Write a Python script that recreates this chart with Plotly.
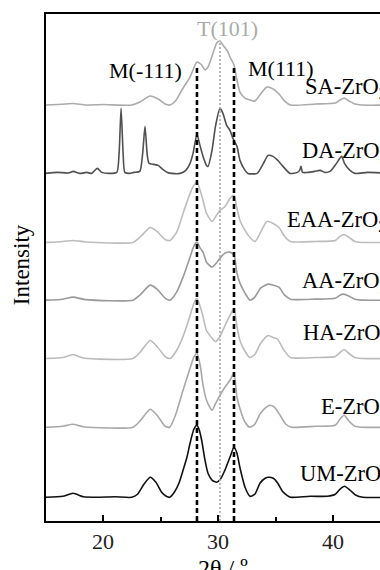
import plotly.graph_objects as go

# ---------------- data (2θ in degrees, relative intensity per pattern) ----------------
UM_tt = [15.0,16.5,17.4,18.3,19.5,21.0,22.5,23.0,23.5,24.1,24.6,25.1,25.5,25.8,26.2,26.6,26.96,27.3,27.57,27.9,28.17,28.35,28.58,28.87,29.13,29.5,29.89,30.2,30.6,31.04,31.39,31.65,31.9,32.35,32.78,33.2,33.65,34.1,34.4,34.8,35.2,35.6,36.0,36.3,38.0,39.5,40.2,40.6,41.0,41.5,42.0,42.6,45.0]
UM_I  = [0,1,4,0.5,0,0.5,0,3,12,20,15,5,1,0,5,14,27,40,54,68,72,68,57,37,24,17,15,18,27,40,50,44,30,10,1,3,14,19,20,19,14,6,2,0,1,1,3,8,11,7,2,0,0]

E_tt = [15.0,16.5,17.4,18.3,22.6,23.2,24.1,24.7,25.4,25.8,26.3,26.96,27.57,27.9,28.17,28.45,28.7,29.0,29.48,29.8,30.17,30.6,31.04,31.39,31.65,31.9,32.35,32.78,33.2,33.7,34.2,34.5,34.9,35.4,35.9,36.4,38.5,40.2,40.6,40.96,41.4,41.9,42.5,45.0]
E_I  = [0,1,3,0.5,0,6,18,12,1,0,12,37,59,70,74,62,42,27,17,24,32,40,47,54,30,19,5,0,3,14,20,22,20,12,3,0,1,2,8,12,6,1,0,0]

HA_tt = [15.0,16.5,17.4,18.3,22.6,23.2,24.1,24.7,25.4,25.83,26.4,26.96,27.57,27.9,28.17,28.45,28.7,29.0,29.8,30.17,30.61,31.04,31.39,31.65,31.91,32.35,32.78,33.2,33.7,34.35,34.8,35.2,35.7,36.3,38.5,40.2,40.6,40.96,41.4,41.9,42.5,45.0]
HA_I  = [0,1,4,0.5,0,6,18,12,2,0,8,22,43,55,60,52,42,28,17,22,33,43,50,32,18,7,1,4,15,23,21,19,9,1,1,2,6,9,5,1,0,0]

AA_tt = [15.0,16.5,17.4,18.5,22.6,23.2,24.1,24.7,25.4,25.83,26.4,26.96,27.57,27.9,28.17,28.45,28.7,29.0,29.48,29.85,30.17,30.61,31.04,31.39,31.65,31.91,32.35,32.78,33.2,33.7,34.35,34.8,35.3,35.8,36.3,38.5,40.2,40.6,40.9,41.4,41.9,42.5,45.0]
AA_I  = [0,1,3,0.5,0,5,15,11,2,0,8,23,43,54,58,52,48,38,33,37,42,47,48,45,27,17,7,0,3,12,16,15,13,5,1,1,2,5,6,4,1,0,0]

EAA_tt = [15.0,16.5,17.4,18.5,22.6,23.2,24.1,24.7,25.4,25.83,26.4,26.96,27.57,27.9,28.17,28.45,28.7,29.0,29.48,29.8,30.17,30.61,31.04,31.39,31.65,31.91,32.35,32.78,33.22,33.7,34.25,34.8,35.3,35.8,36.3,38.5,40.2,40.6,40.96,41.4,41.9,42.5,45.0]
EAA_I  = [0,1,2,0.5,0,5,15,11,3,2,10,29,49,57,60,52,42,29,21,26,32,36,44,47,34,22,12,5,1,10,21,19,15,6,1,1,2,6,8,5,1,0,0]

DA_tt = [15.0,16.0,17.0,17.4,18.0,18.6,19.0,19.5,19.9,20.5,21.2,21.4,21.57,21.75,21.9,22.3,22.7,23.2,23.45,23.65,23.85,24.0,24.4,24.8,25.2,25.6,26.0,26.7,27.2,27.57,27.83,28.17,28.43,28.7,29.0,29.13,29.48,29.78,30.17,30.43,30.75,31.04,31.3,31.65,31.91,32.35,32.6,33.4,33.95,34.35,34.78,35.2,35.65,36.26,36.9,37.1,37.22,37.35,37.8,38.4,38.87,39.3,39.74,40.3,40.75,41.0,41.48,41.91,43.0,45.0]
DA_I  = [0,1,0.5,2,0,1,0,5,1,0,1,20,65,20,1,0,1,2,20,47,18,10,9,8,4,1,0,0,3,10,20,39,28,17,8,7,23,47,65,60,48,43,35,27,13,3,0,0,10,18,17,13,7,0,1,3,7,1,1,2,3,1,2,10,17,10,3,0,1,0]

SA_tt = [15.0,16.0,17.4,18.5,20.0,22.5,23.2,24.1,24.8,25.4,25.83,26.3,26.96,27.57,28.17,28.58,28.87,29.13,29.57,29.89,30.17,30.43,30.87,31.04,31.39,31.65,31.91,32.35,32.78,33.2,33.7,34.25,34.8,35.3,35.8,36.3,38.5,40.2,40.6,40.96,41.4,41.9,42.5,45.0]
SA_I  = [0,0.5,1.5,0,0.5,0,3,9,6,1,0,4,17,28,43,40,35,38,52,62,64,60,53,48,40,25,13,7,5,4,11,18,16,11,4,0,1,2,5,7,4,1,0,0]

names   = ["SA-ZrO<sub>2</sub>", "DA-ZrO<sub>2</sub>", "EAA-ZrO<sub>2</sub>", "AA-ZrO<sub>2</sub>",
           "HA-ZrO<sub>2</sub>", "E-ZrO<sub>2</sub>", "UM-ZrO<sub>2</sub>"]
tt_list = [SA_tt, DA_tt, EAA_tt, AA_tt, HA_tt, E_tt, UM_tt]
I_list  = [SA_I, DA_I, EAA_I, AA_I, HA_I, E_I, UM_I]
offsets = [415.7, 347.4, 278.4, 220.7, 162.4, 93.7, 23.7]

peak_pos    = [28.17, 31.39]     # M(-111), M(111)
tpeak_pos   = 30.17              # T(101)
x_ticks     = [20, 30, 40]

# ---------------- styling ----------------
colors = ["#ababab", "#505050", "#bdbdbd", "#9a9a9a", "#bbbbbb", "#a8a8a8", "#111111"]
label_y = [88, 152, 221, 282, 334, 408, 475]   # pixel rows of sample labels
label_x = [303, 300, 285, 300, 301, 319, 298]

W, H = 380, 570
L, T, B = 46, 14, 49.3
x_range = [20 + (46 - 103) / 11.5, 20 + (380 - 103) / 11.5]
y_top = H - B - T   # 506.7

def px_to_x(px):
    return 20 + (px - 103) / 11.5

def py_to_paper(py):
    return (H - B - py) / y_top

SERIF = "Liberation Serif, Times New Roman, serif"

fig = go.Figure()
for tt, I, off, c in zip(tt_list, I_list, offsets, colors):
    fig.add_trace(go.Scatter(x=tt, y=[v + off for v in I], mode="lines",
                             line=dict(color=c, width=1.6, shape="spline", smoothing=0.6),
                             showlegend=False, hoverinfo="skip"))

# reference lines
for p in peak_pos:
    fig.add_shape(type="line", x0=p, x1=p, y0=0, y1=H - B - 66, xref="x", yref="y",
                  line=dict(color="black", width=2.6, dash="5px,3px"))
fig.add_shape(type="line", x0=tpeak_pos, x1=tpeak_pos, y0=0, y1=H - B - 42, xref="x", yref="y",
              line=dict(color="#aaaaaa", width=1.6, dash="2px,2px"))

def label(text, px, py, size, color="black", xanchor="center", angle=0, xref="x"):
    x = px_to_x(px) if xref == "x" else (px - L) / (W - L)
    fig.add_annotation(x=x, y=py_to_paper(py), xref=xref, yref="paper", text=text,
                       showarrow=False, xanchor=xanchor, yanchor="middle", textangle=angle,
                       font=dict(family=SERIF, size=size, color=color))

# peak labels
label("M(-111)", 145, 70, 22)
label("M(111)", 281, 68, 22)
label("T(101)", 227, 28, 22, color="#aaaaaa")

# sample labels
for n, lx, ly in zip(names, label_x, label_y):
    label(n, lx, ly, 22.5, xanchor="left")

# axis titles
label("Intensity", 21, 265, 23, angle=-90, xref="paper")
label("2θ / º", 223, 568, 24)

fig.update_layout(
    width=W, height=H,
    margin=dict(l=L, r=0, t=T, b=B),
    paper_bgcolor="white", plot_bgcolor="white",
    xaxis=dict(range=x_range, tickvals=x_ticks, ticks="inside", ticklen=6, tickwidth=2,
               tickcolor="black", showline=True, linecolor="black", linewidth=2, mirror=True,
               showgrid=False, zeroline=False,
               minor=dict(dtick=5, tick0=0, ticks="inside", ticklen=4, tickwidth=1.5,
                          tickcolor="black", showgrid=False),
               tickfont=dict(family=SERIF, size=22, color="#222222")),
    yaxis=dict(range=[0, y_top], showticklabels=False, ticks="", showline=True,
               linecolor="black", linewidth=2, showgrid=False, zeroline=False),
)

fig.write_html("out.html", config={"displayModeBar": False},
               post_script="document.body.style.margin='0';")
